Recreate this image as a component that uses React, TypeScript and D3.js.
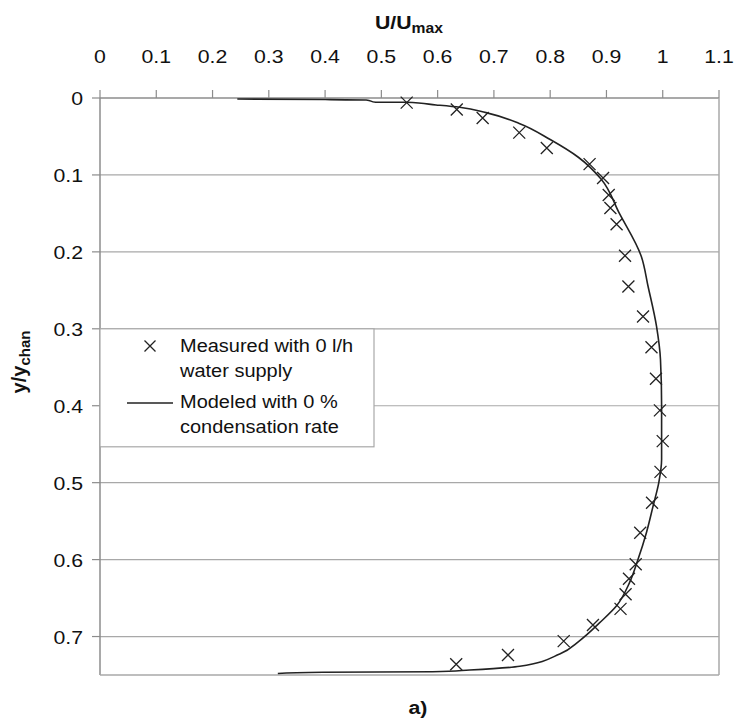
import React from "react";
import * as d3 from "d3";

const xTicks = [0, 0.1, 0.2, 0.3, 0.4, 0.5, 0.6, 0.7, 0.8, 0.9, 1, 1.1];
const yTicks = [0, 0.1, 0.2, 0.3, 0.4, 0.5, 0.6, 0.7];

// Measured (U/Umax, y/ychan)
const measuredU = [0.545, 0.634, 0.68, 0.745, 0.794, 0.87, 0.894, 0.904, 0.907, 0.918, 0.933, 0.939, 0.965, 0.98, 0.988, 0.995, 1.0, 0.996, 0.981, 0.96, 0.952, 0.94, 0.934, 0.925, 0.876, 0.824, 0.725, 0.633];
const measuredY = [0.006, 0.015, 0.026, 0.045, 0.065, 0.086, 0.104, 0.126, 0.143, 0.164, 0.205, 0.245, 0.284, 0.324, 0.365, 0.406, 0.446, 0.486, 0.526, 0.565, 0.606, 0.625, 0.645, 0.664, 0.685, 0.706, 0.724, 0.736];

// Modeled curve
const modelU = [0.244, 0.4, 0.473, 0.49, 0.544, 0.597, 0.639, 0.686, 0.745, 0.8, 0.85, 0.89, 0.923, 0.962, 0.974, 0.989, 0.996, 0.998, 0.998, 0.993, 0.983, 0.971, 0.956, 0.941, 0.918, 0.888, 0.852, 0.817, 0.746, 0.657, 0.591, 0.396, 0.316];
const modelY = [0.0013, 0.002, 0.0026, 0.0056, 0.0056, 0.009, 0.012, 0.019, 0.033, 0.054, 0.077, 0.105, 0.15, 0.206, 0.245, 0.297, 0.34, 0.4, 0.47, 0.5, 0.53, 0.565, 0.6, 0.63, 0.66, 0.682, 0.7055, 0.7227, 0.7387, 0.7435, 0.7457, 0.7465, 0.748];

const FONT = "'Liberation Sans', Arial, sans-serif";

export default function App() {
  const left = 100, right = 719, top = 98, bottom = 675;
  const x = d3.scaleLinear().domain([0, 1.1]).range([left, right]);
  const y = d3.scaleLinear().domain([0, 0.75]).range([top, bottom]);

  const modelPts = modelU.map((u, i) => [u, modelY[i]] as [number, number]);
  const line = d3
    .line<[number, number]>()
    .x((d) => x(d[0]))
    .y((d) => y(d[1]))
    .curve(d3.curveMonotoneY);

  const cross = (cx: number, cy: number, s = 6, key?: any) => (
    <path
      key={key}
      d={`M${cx - s},${cy - s}L${cx + s},${cy + s}M${cx - s},${cy + s}L${cx + s},${cy - s}`}
      stroke="#222"
      strokeWidth={1.3}
      fill="none"
    />
  );

  const grid = "#a8a8a8";
  const axis = "#8c8c8c";

  return (
    <svg
      width={738}
      height={722}
      style={{ position: "absolute", left: 0, top: 0, background: "#fff" }}
      fontFamily={FONT}
    >
      <rect x={0} y={0} width={738} height={722} fill="#fff" />
      {/* gridlines */}
      {yTicks.slice(1).map((t) => (
        <line key={"g" + t} x1={left} x2={right} y1={y(t)} y2={y(t)} stroke={grid} strokeWidth={1.2} />
      ))}
      {/* border */}
      <line x1={left} x2={right} y1={top} y2={top} stroke={axis} strokeWidth={1.5} />
      <line x1={left} x2={left} y1={top} y2={bottom} stroke={axis} strokeWidth={1.5} />
      <line x1={right} x2={right} y1={top} y2={bottom} stroke={grid} strokeWidth={1.5} />
      <line x1={left} x2={right} y1={bottom} y2={bottom} stroke={grid} strokeWidth={1.5} />
      {/* top ticks */}
      {xTicks.map((t) => (
        <g key={"xt" + t}>
          <line x1={x(t)} x2={x(t)} y1={top - 8} y2={top} stroke={axis} strokeWidth={1.2} />
          <text
            transform={`translate(${x(t)},63) scale(1.12,1)`}
            textAnchor="middle"
            fontSize={19}
            fill="#111"
          >
            {String(t)}
          </text>
        </g>
      ))}
      {/* left ticks */}
      {yTicks.map((t) => (
        <g key={"yt" + t}>
          <line x1={left - 8} x2={left} y1={y(t)} y2={y(t)} stroke={axis} strokeWidth={1.2} />
          <text
            transform={`translate(83,${y(t) + 7}) scale(1.12,1)`}
            textAnchor="end"
            fontSize={19}
            fill="#111"
          >
            {String(t)}
          </text>
        </g>
      ))}
      {/* model curve */}
      <path d={line(modelPts) || ""} fill="none" stroke="#222" strokeWidth={1.6} />
      {/* measured */}
      {measuredU.map((u, i) => cross(x(u), y(measuredY[i]), 6, "m" + i))}
      {/* legend */}
      <rect x={left} y={y(0.3)} width={274} height={118} fill="#fff" stroke={grid} strokeWidth={1.2} />
      {cross(150, 346, 5.5)}
      <line x1={127} x2={173} y1={403} y2={403} stroke="#222" strokeWidth={1.6} />
      <g transform="translate(180,0) scale(1.08,1)">
        <text fontSize={18.5} fill="#111">
          <tspan x={0} y={352}>Measured with 0 l/h</tspan>
          <tspan x={0} y={377}>water supply</tspan>
          <tspan x={0} y={408}>Modeled with 0 %</tspan>
          <tspan x={0} y={433}>condensation rate</tspan>
        </text>
      </g>
      {/* titles */}
      <text
        transform="translate(409,29) scale(1.12,1)"
        textAnchor="middle"
        fontSize={19}
        fontWeight="bold"
        fill="#111"
      >
        U/U<tspan fontSize={14} dy={4}>max</tspan>
      </text>
      <text
        transform="translate(26,362) rotate(-90)"
        textAnchor="middle"
        fontSize={20}
        fontWeight="bold"
        fill="#111"
      >
        y/y<tspan fontSize={15} dy={4}>chan</tspan>
      </text>
      <text
        transform="translate(418,714) scale(1.12,1)"
        textAnchor="middle"
        fontSize={19}
        fontWeight="bold"
        fill="#111"
      >
        a)
      </text>
    </svg>
  );
}
